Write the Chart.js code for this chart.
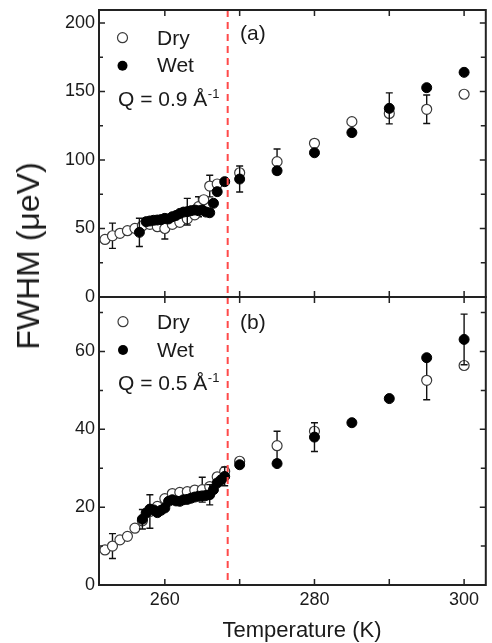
<!DOCTYPE html>
<html><head><meta charset="utf-8">
<script src="https://cdn.jsdelivr.net/npm/chart.js@4"></script>
<style>
html,body{margin:0;padding:0;background:#fff;}
#wrap{position:relative;width:492px;height:643px;overflow:hidden;background:#fff;}
#ca{position:absolute;left:0;top:0;}
#cb{position:absolute;left:0;top:280px;}
.lbl{position:absolute;white-space:nowrap;color:#1a1a1a;font-family:"Liberation Sans",Arial,sans-serif;line-height:1;}
#ytitle{left:28px;top:256px;font-size:32px;transform:translate(-50%,-50%) rotate(-90deg);}
#xtitle{left:302px;top:630px;font-size:22px;transform:translate(-50%,-50%);}
</style></head>
<body><div id="wrap">
<canvas id="ca" width="492" height="310" style="width:492px;height:310px"></canvas>
<canvas id="cb" width="492" height="363" style="width:492px;height:363px"></canvas>
<div id="ytitle" class="lbl">FWHM (μeV)</div>
<div id="xtitle" class="lbl">Temperature (K)</div>
</div>
<script>
// ---------- data ----------
const xTickValues = [260, 270, 280, 290, 300];
const xTickLabels = ['260', '', '280', '', '300'];
const vlineT = 268.4;

const yTicksA = [0, 50, 100, 150, 200];
const yMinorA = [25, 75, 125, 175];
const yTicksB = [0, 20, 40, 60];
const yMinorB = [10, 30, 50, 70];

// Panel (a) Q = 0.9
const dryA_T = [252, 253, 254, 255, 256, 257, 258, 259, 260, 261, 262, 263, 264, 264.5, 265.2, 266, 267, 270, 275, 280, 285, 290, 295, 300];
const dryA_V = [42, 44.7, 46.5, 48.4, 50.1, 52, 53, 51.3, 50, 53, 54.5, 57, 60, 65.9, 71, 81, 82.5, 90.7, 98.8, 112.2, 128, 134, 137, 148];
const dryA_E = [0, 9.2, 0, 0, 0, 0, 0, 0, 7.7, 0, 0, 0, 0, 7.3, 0, 7.9, 0, 0, 9.2, 0, 0, 0, 10.4, 0];
const wetA_T = [256.6, 257.5, 258, 258.5, 259, 259.5, 260, 260.5, 261, 261.5, 262, 262.5, 263, 263.5, 264, 264.5, 265, 265.5, 266, 266.5, 267, 268, 270, 275, 280, 285, 290, 295, 300];
const wetA_V = [47.2, 55, 55.5, 56, 56.2, 56.5, 57.4, 57, 58.6, 59.5, 61, 62, 62.3, 63, 63.5, 63, 63.5, 62, 61.5, 68.4, 76.9, 84.2, 86.1, 92.2, 105.3, 120, 137.7, 152.8, 164];
const wetA_E = [10.3, 0, 0, 0, 0, 0, 0, 0, 0, 0, 0, 0, 9.7, 0, 0, 0, 0, 0, 0, 0, 0, 0, 9.5, 0, 0, 0, 11.3, 0, 0];

// Panel (b) Q = 0.5
const dryB_T = [252, 253, 254, 255, 256, 257, 258, 259, 260, 261, 262, 263, 264, 265, 266, 267, 268, 270, 275, 280, 295, 300];
const dryB_V = [9.0, 10.0, 11.6, 12.5, 14.6, 16.5, 18.9, 20.2, 22.2, 23.5, 23.8, 24.0, 24.4, 24.5, 25.3, 27.8, 29.2, 31.8, 35.8, 39.5, 52.6, 56.4];
const dryB_E = [0, 3.2, 0, 0, 0, 0, 4.3, 0, 0, 0, 0, 0, 0, 3.2, 0, 0, 0, 0, 3.7, 0, 5.0, 0];
const wetB_T = [257, 257.5, 258, 258.5, 259, 259.5, 260, 260.5, 261, 261.5, 262, 262.5, 263, 263.5, 264, 264.5, 265, 265.5, 266, 266.5, 267, 267.5, 268, 270, 275, 280, 285, 290, 295, 300];
const wetB_V = [16.9, 18.5, 19.5, 19.3, 18.6, 19.2, 19.8, 21.5, 21.9, 21.6, 21.5, 21.9, 22.0, 22.3, 22.6, 22.8, 22.9, 23.0, 23.2, 24.5, 26.2, 27.0, 27.9, 30.9, 31.2, 38.0, 41.7, 47.9, 58.4, 63.1];
const wetB_E = [2.5, 0, 0, 0, 0, 0, 0, 0, 0, 0, 0, 0, 0, 0, 0, 0, 0, 0, 2.6, 0, 0, 0, 2.4, 0, 0, 3.7, 0, 0, 0, 6.5];

// ---------- rendering ----------
const FONT = '"Liberation Sans", Arial, sans-serif';
const INK = '#1a1a1a';
const R = 5;

const panelPlugin = {
  id: 'panel',
  beforeDatasetDraw(chart, args) {
    const ds = chart.data.datasets[args.index];
    if (!ds.errors) return;
    const xs = chart.scales.x, ys = chart.scales.y, ctx = chart.ctx;
    ctx.save();
    ctx.strokeStyle = '#111';
    ctx.lineWidth = 1.4;
    ds.data.forEach((p, i) => {
      const e = ds.errors[i];
      if (!e) return;
      const px = xs.getPixelForValue(p.x);
      const y1 = ys.getPixelForValue(p.y - e), y2 = ys.getPixelForValue(p.y + e);
      ctx.beginPath();
      ctx.moveTo(px, y1); ctx.lineTo(px, y2);
      ctx.moveTo(px - 3.5, y1); ctx.lineTo(px + 3.5, y1);
      ctx.moveTo(px - 3.5, y2); ctx.lineTo(px + 3.5, y2);
      ctx.stroke();
    });
    ctx.restore();
  },
  afterDatasetsDraw(chart) {
    const {ctx, chartArea: a} = chart;
    const px = chart.scales.x.getPixelForValue(vlineT);
    ctx.save();
    ctx.strokeStyle = '#ff4a4a';
    ctx.lineWidth = 2;
    ctx.setLineDash([7, 5]);
    ctx.beginPath();
    ctx.moveTo(px, a.top); ctx.lineTo(px, a.bottom);
    ctx.stroke();
    ctx.restore();
  },
  afterDraw(chart, args, o) {
    const {ctx, chartArea: a} = chart;
    const xs = chart.scales.x, ys = chart.scales.y;
    const off = o.offset;
    ctx.save();
    ctx.strokeStyle = '#222';
    ctx.lineWidth = 2;
    ctx.strokeRect(a.left, a.top, a.right - a.left, a.bottom - a.top);
    ctx.lineWidth = 1.5;
    ctx.beginPath();
    xTickValues.forEach(v => {
      const px = xs.getPixelForValue(v);
      ctx.moveTo(px, a.top); ctx.lineTo(px, a.top + 6);
      ctx.moveTo(px, a.bottom); ctx.lineTo(px, a.bottom - 6);
    });
    o.major.forEach(v => {
      const py = ys.getPixelForValue(v);
      ctx.moveTo(a.left, py); ctx.lineTo(a.left + 6, py);
      ctx.moveTo(a.right, py); ctx.lineTo(a.right - 6, py);
    });
    o.minor.forEach(v => {
      const py = ys.getPixelForValue(v);
      ctx.moveTo(a.left, py); ctx.lineTo(a.left + 4, py);
      ctx.moveTo(a.right, py); ctx.lineTo(a.right - 5, py);
    });
    ctx.stroke();

    // legend
    ctx.fillStyle = INK;
    ctx.textBaseline = 'alphabetic';
    ctx.textAlign = 'left';
    o.legend.forEach(l => {
      ctx.beginPath();
      ctx.arc(l.cx, l.cy - off, R, 0, Math.PI * 2);
      if (l.filled) { ctx.fillStyle = '#000'; ctx.fill(); }
      else { ctx.fillStyle = '#fff'; ctx.fill(); ctx.lineWidth = 1.2; ctx.strokeStyle = '#3a3a3a'; ctx.stroke(); }
      ctx.fillStyle = INK;
      ctx.font = '21px ' + FONT;
      ctx.fillText(l.text, l.tx, l.ty - off);
    });
    ctx.font = '21px ' + FONT;
    ctx.fillText(o.q.text, o.q.x, o.q.y - off);
    const w = ctx.measureText(o.q.text).width;
    ctx.font = '13px ' + FONT;
    ctx.fillText(o.q.sup, o.q.x + w + 0.5, o.q.y - off - 8);
    ctx.font = '21px ' + FONT;
    ctx.fillText(o.tag.text, o.tag.x, o.tag.y - off);
    ctx.restore();
  }
};

const pts = (T, V) => T.map((t, i) => ({x: t, y: V[i]}));

function makeChart(id, c) {
  return new Chart(document.getElementById(id), {
    type: 'scatter',
    data: {datasets: [
      {label: 'Wet', data: pts(c.wetT, c.wetV), errors: c.wetE, backgroundColor: '#000', borderColor: '#000', pointRadius: R, pointHoverRadius: R, pointBorderWidth: 1},
      {label: 'Dry', data: pts(c.dryT, c.dryV), errors: c.dryE, backgroundColor: '#fff', borderColor: '#3a3a3a', pointRadius: R, pointHoverRadius: R, pointBorderWidth: 1.2}
    ]},
    options: {
      responsive: false, animation: false, events: [],
      layout: {padding: c.padding},
      plugins: {legend: {display: false}, tooltip: {enabled: false}, panel: c.panel},
      scales: {
        x: {
          type: 'linear', min: 251.2, max: 302.9, display: c.showX,
          grid: {display: false, drawTicks: false}, border: {display: false},
          afterBuildTicks: s => { s.ticks = xTickValues.map(v => ({value: v})); },
          ticks: {autoSkip: false, maxRotation: 0, padding: 4, color: INK, font: {family: FONT, size: 18},
                  callback: (v, i) => xTickLabels[i]},
          afterFit: s => { s.height = c.xHeight; s.paddingLeft = 0; s.paddingRight = 0; }
        },
        y: {
          type: 'linear', min: 0, max: c.yMax,
          grid: {display: false, drawTicks: false}, border: {display: false},
          afterBuildTicks: s => { s.ticks = c.panel.major.map(v => ({value: v})); },
          ticks: {autoSkip: false, padding: 4, color: INK, font: {family: FONT, size: 18}},
          afterFit: s => { s.width = 99; s.paddingTop = 0; s.paddingBottom = 0; }
        }
      }
    },
    plugins: [panelPlugin]
  });
}

makeChart('ca', {
  dryT: dryA_T, dryV: dryA_V, dryE: dryA_E, wetT: wetA_T, wetV: wetA_V, wetE: wetA_E,
  yMax: 209.5, showX: false, xHeight: 0,
  padding: {left: 0, right: 1, top: 10, bottom: 13},
  panel: {
    offset: 0, major: yTicksA, minor: yMinorA,
    legend: [
      {filled: false, cx: 122.5, cy: 37.7, text: 'Dry', tx: 157, ty: 45},
      {filled: true, cx: 122.5, cy: 65.7, text: 'Wet', tx: 157, ty: 72}
    ],
    q: {text: 'Q = 0.9 Å', sup: '-1', x: 118, y: 105.5},
    tag: {text: '(a)', x: 240, y: 40}
  }
});

makeChart('cb', {
  dryT: dryB_T, dryV: dryB_V, dryE: dryB_E, wetT: wetB_T, wetV: wetB_V, wetE: wetB_E,
  yMax: 74, showX: true, xHeight: 58,
  padding: {left: 0, right: 1, top: 17, bottom: 0},
  panel: {
    offset: 280, major: yTicksB, minor: yMinorB,
    legend: [
      {filled: false, cx: 123, cy: 321.7, text: 'Dry', tx: 157, ty: 328.5},
      {filled: true, cx: 123, cy: 350, text: 'Wet', tx: 157, ty: 357}
    ],
    q: {text: 'Q = 0.5 Å', sup: '-1', x: 118, y: 390},
    tag: {text: '(b)', x: 240, y: 328.5}
  }
});
</script>
</body></html>
